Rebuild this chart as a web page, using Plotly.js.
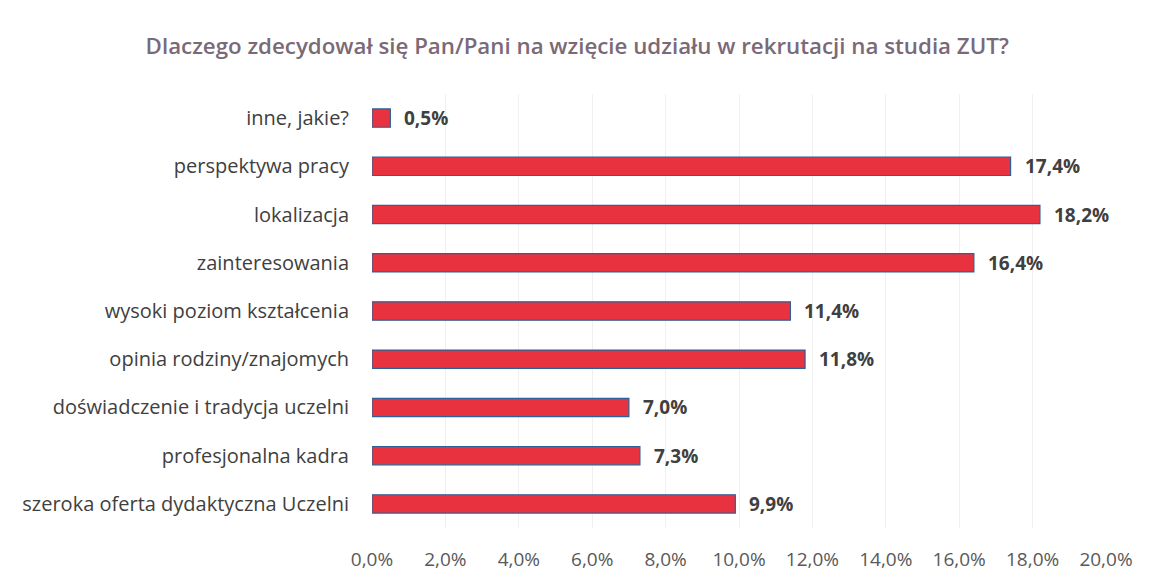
<!DOCTYPE html>
<html><head><meta charset="utf-8">
<script src="https://cdn.plot.ly/plotly-3.0.1.min.js"></script>
<style>html,body{margin:0;padding:0;background:#fff;}#chart{width:1150px;height:583px;}</style>
</head><body><div id="chart"></div>
<script>
const categories = [
  "szeroka oferta dydaktyczna Uczelni",
  "profesjonalna kadra",
  "doświadczenie i tradycja uczelni",
  "opinia rodziny/znajomych",
  "wysoki poziom kształcenia",
  "zainteresowania",
  "lokalizacja",
  "perspektywa pracy",
  "inne, jakie?"
];
const values = [9.9, 7.3, 7.0, 11.8, 11.4, 16.4, 18.2, 17.4, 0.5];
const valueLabels = ["9,9%", "7,3%", "7,0%", "11,8%", "11,4%", "16,4%", "18,2%", "17,4%", "0,5%"];
const tickVals = [0, 2, 4, 6, 8, 10, 12, 14, 16, 18, 20];
const tickText = ["0,0%", "2,0%", "4,0%", "6,0%", "8,0%", "10,0%", "12,0%", "14,0%", "16,0%", "18,0%", "20,0%"];

const font = "'Open Sans', Lato, sans-serif";

const trace = {
  type: "bar",
  orientation: "h",
  y: categories,
  x: values,
  width: 0.38,
  marker: { color: "#e8323f", line: { color: "#2f5f94", width: 1.2 } },
  hoverinfo: "skip"
};

const annotations = categories.map((c, i) => ({
  x: values[i], y: c, xref: "x", yref: "y",
  text: valueLabels[i],
  showarrow: false, xanchor: "left", yanchor: "middle", xshift: 12,
  font: { family: font, size: 19, weight: 700, color: "#404040" }
}));

const layout = {
  width: 1150, height: 583,
  margin: { l: 372, r: 44, t: 94, b: 55 },
  paper_bgcolor: "#ffffff", plot_bgcolor: "#ffffff",
  title: {
    text: "Dlaczego zdecydował się Pan/Pani na wzięcie udziału w rekrutacji na studia ZUT?",
    x: 0.502, xanchor: "center", y: 0.92, yanchor: "middle",
    font: { family: font, size: 22.3, weight: 600, color: "#7a6a78" }
  },
  xaxis: {
    range: [0, 20], tickvals: tickVals, ticktext: tickText,
    showgrid: true, gridcolor: "#f0f0f0", gridwidth: 1,
    zeroline: false, showline: false, ticks: "",
    tickfont: { family: font, size: 19, color: "#595959" },
    ticklabelstandoff: 18, fixedrange: true
  },
  yaxis: {
    type: "category", categoryorder: "array", categoryarray: categories,
    range: [-0.5, 8.5],
    showgrid: false, zeroline: false, showline: false, ticks: "",
    tickfont: { family: font, size: 20, color: "#404040" },
    ticklabelstandoff: 22, fixedrange: true
  },
  showlegend: false,
  annotations: annotations
};

Plotly.newPlot("chart", [trace], layout, { displayModeBar: false, staticPlot: true });
</script>
</body></html>
